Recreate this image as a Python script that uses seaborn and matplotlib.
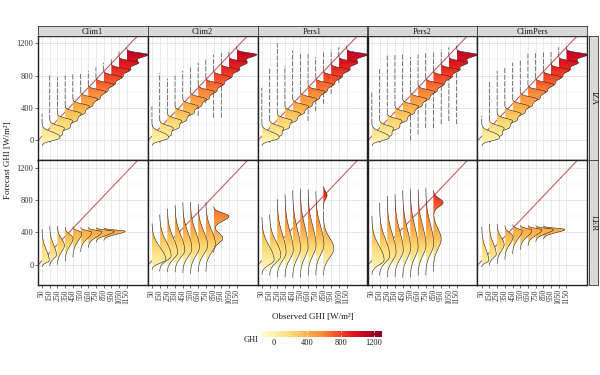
import numpy as np
import matplotlib
matplotlib.use("Agg")
import matplotlib.pyplot as plt
from matplotlib.patches import Polygon
from matplotlib.colors import Normalize
import seaborn as sns

# ---------------------------------------------------------
# data
# ---------------------------------------------------------
obs_bins = [50, 150, 250, 350, 450, 550, 650, 750, 850, 950, 1050, 1150]
models = ["Clim1", "Clim2", "Pers1", "Pers2", "ClimPers"]
sites = ["IZA", "LER"]
ghi_ticks = [0, 400, 800, 1200]
ghi_range = [-140, 1290]

# IZA: sharp ridges close to the diagonal (same body in every model)
iza_peak = [60, 150, 240, 330, 420, 510, 600, 690, 780, 870, 960, 1060]
iza_sd_lo = [40, 60, 56, 52, 50, 48, 46, 44, 43, 42, 40, 38]
iza_sd_hi = [45, 32, 30, 29, 28, 27, 26, 25, 25, 24, 23, 22]
iza_lobe = [10, 60, 150, 240, 330, 420, 510, 600, 690, 780, 870, 970]
iza_lobe_sd = [25, 28, 28, 28, 28, 28, 28, 28, 28, 28, 26, 24]
iza_lobe_w = [0.5, 0.5, 0.5, 0.5, 0.5, 0.5, 0.5, 0.5, 0.5, 0.5, 0.5, 0.45]

# IZA: extent of the thin tails (outliers) per model
iza_top_clim1 = [330, 820, 780, 800, 820, 830, 860, 900, 960, 1000, 1100, 1150]
iza_bot_clim1 = [-20, 40, 120, 210, 300, 380, 470, 560, 650, 740, 830, 930]
iza_top_clim2 = [420, 830, 760, 800, 860, 900, 960, 1000, 1060, 1080, 1120, 1160]
iza_bot_clim2 = [-20, 40, 120, 200, 300, 380, 300, 460, 280, 280, 830, 930]
iza_top_pers1 = [650, 900, 1200, 920, 1110, 1090, 1090, 1030, 1100, 1120, 1150, 1170]
iza_bot_pers1 = [-20, 40, 120, 200, 300, 380, 240, 360, 450, 570, 710, 930]
iza_top_pers2 = [600, 880, 1050, 1070, 1080, 1030, 1060, 1080, 1100, 1120, 1150, 1170]
iza_bot_pers2 = [-20, 40, 120, 200, 300, 0, 70, 150, 150, 200, 240, 200]
iza_top_climpers = [300, 740, 860, 900, 960, 1000, 1090, 1100, 1090, 1100, 1150, 1160]
iza_bot_climpers = [-20, 40, 120, 200, 300, 380, 470, 560, 650, 740, 810, 930]

# LER: nine observed bins (50..850)
ler_clim1_peak = [50, 120, 240, 330, 395, 402, 408, 412, 415]
ler_clim1_sd_lo = [25, 45, 80, 95, 100, 80, 65, 45, 38]
ler_clim1_sd_hi = [130, 120, 80, 45, 25, 20, 18, 16, 14]
ler_clim1_top = [380, 450, 450, 440, 430, 425, 425, 425, 425]
ler_clim1_bot = [-10, 0, 30, 60, 130, 190, 230, 290, 310]

ler_clim2_peak = [60, 110, 150, 180, 200, 220, 240, 260, 600]
ler_clim2_sd_lo = [40, 60, 80, 90, 100, 110, 110, 110, 60]
ler_clim2_sd_hi = [150, 170, 180, 185, 190, 185, 170, 170, 40]
ler_clim2_top = [502, 604, 685, 726, 747, 747, 726, 747, 710]
ler_clim2_bot = [30, -80, -85, -85, -85, -85, -85, -85, 150]
ler_clim2_lobe = [0, 0, 0, 0, 0, 0, 0, 0, 330]
ler_clim2_lobe_sd = [1, 1, 1, 1, 1, 1, 1, 1, 60]
ler_clim2_lobe_w = [0, 0, 0, 0, 0, 0, 0, 0, 0.6]

ler_pers1_peak = [60, 110, 150, 180, 200, 220, 240, 250, 200]
ler_pers1_sd_lo = [60, 80, 100, 110, 120, 125, 125, 125, 110]
ler_pers1_sd_hi = [170, 170, 220, 230, 240, 240, 230, 220, 130]
ler_pers1_top = [587, 587, 808, 848, 890, 895, 870, 870, 970]
ler_pers1_bot = [-100, -120, -130, -130, -130, -130, -130, -130, -100]
ler_pers1_lobe = [0, 0, 0, 0, 0, 0, 0, 0, 860]
ler_pers1_lobe_sd = [1, 1, 1, 1, 1, 1, 1, 1, 45]
ler_pers1_lobe_w = [0, 0, 0, 0, 0, 0, 0, 0, 0.35]

ler_pers2_peak = [60, 110, 150, 180, 200, 220, 240, 260, 770]
ler_pers2_sd_lo = [60, 80, 100, 110, 120, 125, 125, 125, 50]
ler_pers2_sd_hi = [170, 200, 220, 230, 240, 240, 230, 230, 50]
ler_pers2_top = [604, 767, 849, 869, 890, 890, 869, 930, 910]
ler_pers2_bot = [-100, -130, -130, -130, -130, -130, -130, -130, -80]
ler_pers2_lobe = [0, 0, 0, 0, 0, 0, 0, 0, 320]
ler_pers2_lobe_sd = [1, 1, 1, 1, 1, 1, 1, 1, 120]
ler_pers2_lobe_w = [0, 0, 0, 0, 0, 0, 0, 0, 0.8]

ler_climpers_peak = [50, 130, 250, 350, 420, 428, 432, 436, 438]
ler_climpers_sd_lo = [25, 45, 80, 95, 95, 80, 65, 50, 40]
ler_climpers_sd_hi = [140, 125, 85, 45, 25, 20, 18, 16, 14]
ler_climpers_top = [400, 440, 460, 465, 470, 455, 450, 450, 450]
ler_climpers_bot = [-10, 0, 30, 80, 190, 230, 270, 320, 350]

no_lobe = [0, 0, 0, 0, 0, 0, 0, 0, 0]
no_lobe_sd = [1, 1, 1, 1, 1, 1, 1, 1, 1]

# widest ridge of each panel, in bin units
iza_scale = [2.8, 2.6, 2.7, 2.7, 2.8]
ler_scale = [2.8, 2.0, 1.6, 1.6, 2.8]

# ---------------------------------------------------------
# table of ridges per panel
# ---------------------------------------------------------
def iza(top, bot):
    return dict(peak=iza_peak, sd_lo=iza_sd_lo, sd_hi=iza_sd_hi, top=top, bot=bot,
                lobe=iza_lobe, lobe_sd=iza_lobe_sd, lobe_w=iza_lobe_w)

ridges = {
    ("IZA", "Clim1"): iza(iza_top_clim1, iza_bot_clim1),
    ("IZA", "Clim2"): iza(iza_top_clim2, iza_bot_clim2),
    ("IZA", "Pers1"): iza(iza_top_pers1, iza_bot_pers1),
    ("IZA", "Pers2"): iza(iza_top_pers2, iza_bot_pers2),
    ("IZA", "ClimPers"): iza(iza_top_climpers, iza_bot_climpers),
    ("LER", "Clim1"): dict(peak=ler_clim1_peak, sd_lo=ler_clim1_sd_lo, sd_hi=ler_clim1_sd_hi,
                           top=ler_clim1_top, bot=ler_clim1_bot,
                           lobe=no_lobe, lobe_sd=no_lobe_sd, lobe_w=no_lobe),
    ("LER", "Clim2"): dict(peak=ler_clim2_peak, sd_lo=ler_clim2_sd_lo, sd_hi=ler_clim2_sd_hi,
                           top=ler_clim2_top, bot=ler_clim2_bot,
                           lobe=ler_clim2_lobe, lobe_sd=ler_clim2_lobe_sd, lobe_w=ler_clim2_lobe_w),
    ("LER", "Pers1"): dict(peak=ler_pers1_peak, sd_lo=ler_pers1_sd_lo, sd_hi=ler_pers1_sd_hi,
                           top=ler_pers1_top, bot=ler_pers1_bot,
                           lobe=ler_pers1_lobe, lobe_sd=ler_pers1_lobe_sd, lobe_w=ler_pers1_lobe_w),
    ("LER", "Pers2"): dict(peak=ler_pers2_peak, sd_lo=ler_pers2_sd_lo, sd_hi=ler_pers2_sd_hi,
                           top=ler_pers2_top, bot=ler_pers2_bot,
                           lobe=ler_pers2_lobe, lobe_sd=ler_pers2_lobe_sd, lobe_w=ler_pers2_lobe_w),
    ("LER", "ClimPers"): dict(peak=ler_climpers_peak, sd_lo=ler_climpers_sd_lo, sd_hi=ler_climpers_sd_hi,
                              top=ler_climpers_top, bot=ler_climpers_bot,
                              lobe=no_lobe, lobe_sd=no_lobe_sd, lobe_w=no_lobe),
}


def density(r, i):
    pk, sl, sh = r["peak"][i], r["sd_lo"][i], r["sd_hi"][i]
    lc, ls, lw = r["lobe"][i], r["lobe_sd"][i], r["lobe_w"][i]
    lo = min(r["bot"][i], pk - 3 * sl, lc - 3 * ls if lw > 0 else pk)
    hi = max(r["top"][i], pk + 3 * sh)
    y = np.linspace(lo, hi, 500)
    sd = np.where(y < pk, sl, sh)
    d = np.exp(-0.5 * ((y - pk) / sd) ** 2)
    d = d + lw * np.exp(-0.5 * ((y - lc) / ls) ** 2)
    area = np.sqrt(2 * np.pi) / 2 * (sl + sh) + lw * np.sqrt(2 * np.pi) * ls
    return y, d / area


# ---------------------------------------------------------
# style
# ---------------------------------------------------------
sns.set_theme(style="white")
plt.rcParams["font.family"] = ["Liberation Serif", "DejaVu Serif"]
cmap = sns.color_palette("YlOrRd", as_cmap=True)
norm = Normalize(vmin=ghi_range[0], vmax=ghi_range[1])

W, H = 600, 375
fig = plt.figure(figsize=(W / 100, H / 100), dpi=100)

col_left = [37.7, 147.6, 257.5, 367.5, 477.4]
col_w = 109.9
row_top = [36.0, 160.5]
row_h = 124.5


def fbox(x, y, w, h):
    return [x / W, 1 - (y + h) / H, w / W, h / H]


xpos = np.arange(len(obs_bins))
for r_i, site in enumerate(sites):
    for c_i, model in enumerate(models):
        ax = fig.add_axes(fbox(col_left[c_i], row_top[r_i], col_w, row_h))
        ax.set_facecolor("white")

        # grid
        for gx in xpos:
            ax.axvline(gx, color="#e3e3e3", lw=0.5, zorder=0)
        for gy in [-200, 200, 600, 1000]:
            ax.axhline(gy, color="#f0f0f0", lw=0.35, zorder=0)
        for gy in ghi_ticks:
            ax.axhline(gy, color="#e0e0e0", lw=0.55, zorder=0)

        # identity line (observed = forecast)
        ax.axline((xpos[0], obs_bins[0]), (xpos[1], obs_bins[1]),
                  color="#c8605f", lw=0.8, zorder=1)

        r = ridges[(site, model)]
        n = len(r["peak"])
        curves = [density(r, i) for i in range(n)]
        dmax = max(d.max() for _, d in curves)
        scale = (iza_scale if site == "IZA" else ler_scale)[c_i]
        k = scale / dmax
        for i, (y, d) in enumerate(curves):
            w = d * k
            x0 = xpos[i]
            z = 3 + (n - i) * 0.1  # first bin sits on top, as in a ridgeline
            verts = np.column_stack([np.r_[x0 + w, x0, x0], np.r_[y, y[-1], y[0]]])
            poly = Polygon(verts, closed=True, facecolor="none", edgecolor="none")
            ax.add_patch(poly)
            grad = np.linspace(y[0], y[-1], 256).reshape(-1, 1)
            im = ax.imshow(grad, extent=[x0, x0 + w.max() + 0.05, y[0], y[-1]],
                           origin="lower", cmap=cmap, norm=norm, aspect="auto",
                           interpolation="bilinear", zorder=z)
            im.set_clip_path(poly)
            # body outline solid, near-zero outlier tails broken
            body = w > 0.012
            ax.plot(np.where(body, x0 + w, np.nan), y, color="#262626", lw=0.4,
                    zorder=z + 0.05)
            ax.plot(np.where(body, np.nan, x0 + w), y, color="#333333", lw=0.45,
                    ls=(0, (8, 2.5)), zorder=z + 0.05)

        ax.set_xlim(-0.56, 13.71)
        ax.set_ylim(-250, 1290)
        for s in ax.spines.values():
            s.set_color("#222222")
            s.set_linewidth(1.0)
            s.set_zorder(10)

        ax.set_xticks(xpos)
        ax.set_yticks(ghi_ticks)
        if r_i == 1:
            ax.set_xticklabels([str(b) for b in obs_bins], rotation=90, fontsize=5.5,
                               va="top", ha="center")
            ax.tick_params(axis="x", bottom=True, length=2, width=0.5, pad=1,
                           color="#333333", labelcolor="#333333")
        else:
            ax.tick_params(axis="x", bottom=False, labelbottom=False)
        if c_i == 0:
            ax.set_yticklabels([str(t) for t in ghi_ticks], fontsize=6)
            ax.tick_params(axis="y", left=True, length=2, width=0.5, pad=1,
                           color="#333333", labelcolor="#333333")
        else:
            ax.tick_params(axis="y", left=False, labelleft=False)

# facet strips
for c_i, model in enumerate(models):
    sax = fig.add_axes(fbox(col_left[c_i], 26, col_w, 10))
    sax.set_facecolor("#d9d9d9")
    sax.set_xticks([])
    sax.set_yticks([])
    for s in sax.spines.values():
        s.set_color("#333333")
        s.set_linewidth(0.6)
    sax.text(0.5, 0.45, model, ha="center", va="center", fontsize=6,
             color="#1a1a1a", transform=sax.transAxes)

for r_i, site in enumerate(sites):
    sax = fig.add_axes(fbox(588.5, row_top[r_i], 9.5, row_h))
    sax.set_facecolor("#d9d9d9")
    sax.set_xticks([])
    sax.set_yticks([])
    for s in sax.spines.values():
        s.set_color("#333333")
        s.set_linewidth(0.6)
    sax.text(0.5, 0.5, site, ha="center", va="center", rotation=-90, fontsize=6,
             color="#1a1a1a", transform=sax.transAxes)

# axis titles
fig.text(312.5 / W, 1 - 317 / H, "Observed GHI [W/m²]", ha="center", va="center",
         fontsize=6.5, color="#1a1a1a")
fig.text(8 / W, 1 - 160.5 / H, "Forecast GHI [W/m²]", ha="center", va="center",
         rotation=90, fontsize=6.5, color="#1a1a1a")

# colour bar
cax = fig.add_axes(fbox(261.7, 330.7, 120, 5.8))
sm = plt.cm.ScalarMappable(norm=norm, cmap=cmap)
cb = fig.colorbar(sm, cax=cax, orientation="horizontal", ticks=ghi_ticks)
cb.outline.set_visible(False)
cax.tick_params(length=0, labelsize=6, pad=1.5, labelcolor="#1a1a1a")
for t in ghi_ticks:
    cax.axvline(t, ymin=0, ymax=0.2, color="white", lw=0.5)
    cax.axvline(t, ymin=0.8, ymax=1, color="white", lw=0.5)
fig.text(251 / W, 1 - 340.5 / H, "GHI", ha="center", va="center", fontsize=6,
         color="#1a1a1a")

fig.savefig("out.png", dpi=100)
